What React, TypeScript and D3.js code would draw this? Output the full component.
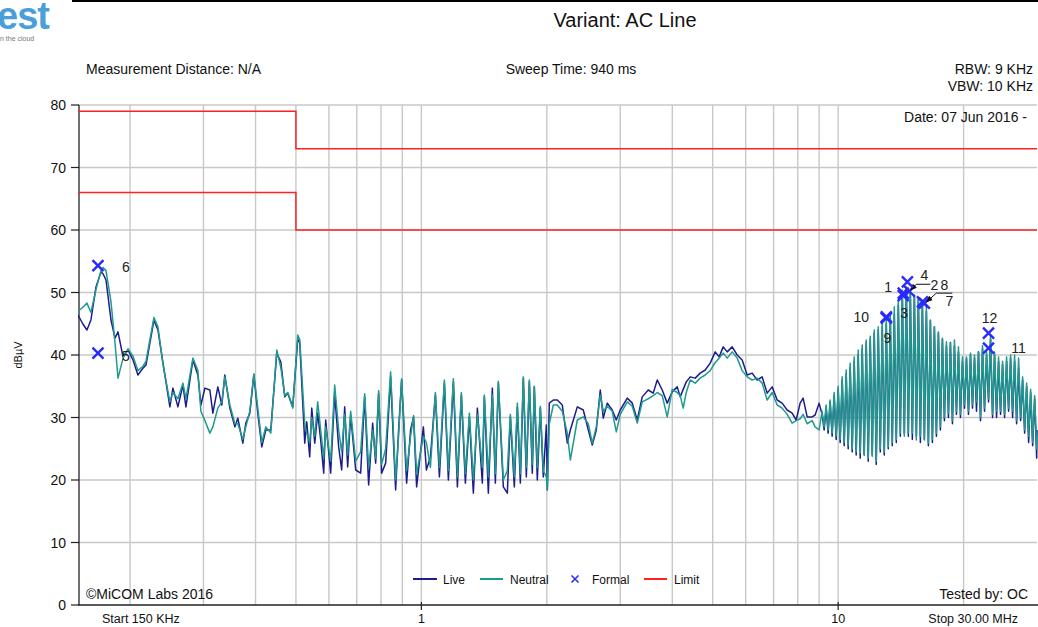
import React from 'react';
import * as d3 from 'd3';

// ---------- DATA ----------
const sweepMHz = [
  0.150,0.154,0.1576,0.1611,0.1657,0.1703,0.1722,0.1751,0.1800,0.1840,0.1871,0.1924,0.1977,0.2033,0.2089,0.2148,0.2184,0.2282,0.2333,0.2399,0.2492,0.2534,0.2605,0.2678,0.2723,0.2830,0.2909,0.2958,0.3024,0.3108,0.3160,0.3248,0.3321,0.3376,0.3471,0.3569,0.3627,0.3729,0.3791,0.3876,0.3963,0.4050,0.4141,0.4233,0.4352,0.4498,0.4599,0.4702,0.4779,0.4913,0.5050,0.5106,
  0.5250,0.5308,0.5396,0.5457,0.5548,0.5639,0.5733,0.5830,0.5894,0.6058,0.6194,0.6332,0.6438,0.6546,0.6655,0.6766,0.6957,0.7149,0.7310,0.7472,0.7640,0.7768,0.7896,0.8029,0.8209,0.8437,0.8674,0.8817,0.8965,0.9217,0.9421,0.9579,0.9740,1.0111,1.0281,1.0511,1.0805,1.1047,1.1355,1.1609,1.1933,1.2201,1.2472,1.2751,1.3037,1.3326,1.3625,1.4005,1.4161,1.4478,1.4800,1.5049,1.5300,1.5727,1.6080,1.6349,1.6712,1.6993,1.7277,1.7563,1.7858,1.8157,1.8457,1.8663,1.8976,1.9294,1.9613,1.9943,2.0055,2.0274,
  2.0727,2.1192,2.1783,2.2395,2.2770,2.3666,2.4461,2.5148,2.5706,2.6284,2.6868,2.7316,2.7929,2.8707,2.9352,3.0005,3.1190,3.2059,3.2961,3.3879,3.5024,3.6000,3.6808,3.7833,3.8897,3.9981,4.1106,4.1789,4.2485,4.3200,4.4161,4.5399,4.6668,4.7979,4.9317,5.0699,5.1834,5.2985,5.4174,5.5683,5.7250,5.8843,6.0499,6.2183,6.3933,6.5713,6.7563,6.9443,7.1397,7.3385,7.5451,7.7551,7.9294,8.1059,8.2410,8.4260,8.6605,8.8060,9.0020,
  9.1524,9.2544,9.3575,9.4617,9.5671,9.6737,9.7814,9.8904,10.001,10.112,10.225,10.339,10.454,10.570,10.688,10.807,10.927,11.049,11.172,11.296,11.422,11.549,11.678,11.808,11.940,12.073,12.207,12.343,12.481,12.620,12.760,12.902,13.046,13.191,13.338,13.487,13.637,13.789,13.943,14.098,14.255,14.414,14.575,14.737,14.901,15.067,15.235,15.405,15.576,15.750,15.925,16.102,16.282,16.463,16.646,16.832,17.019,17.209,17.400,17.594,17.790,17.988,18.189,18.391,18.596,18.803,19.013,19.225,19.439,19.655,19.874,20.096,20.319,20.546,20.775,21.006,21.240,21.477,21.716,21.958,22.202,22.450,22.700,22.953,23.208,23.467,23.728,23.993,24.260,24.530,24.803,25.080,25.359,25.642,25.927,26.216,26.508,26.804,27.102,27.404,27.709,28.018,28.330,28.646,28.965,29.287,29.614,29.944,30.0,
];

const liveDbuV = [
  46.4,45.0,44.0,45.6,50.9,53.3,53.0,52.0,45.6,42.7,43.7,39.7,40.8,39.2,36.8,37.9,38.4,45.6,44.0,38.7,31.7,34.7,31.7,35.2,31.7,39.2,36.8,32.0,34.7,34.4,30.7,34.9,32.0,36.8,31.5,28.5,29.9,25.9,29.1,30.7,36.8,30.7,25.3,28.0,28.0,40.3,38.9,33.3,33.9,31.7,42.5,42.0,
  25.9,29.3,23.7,31.5,25.9,30.7,26.4,21.1,29.6,21.1,33.9,25.3,21.6,31.7,22.1,30.4,21.6,21.1,33.3,19.2,29.1,22.7,33.9,21.1,22.7,36.5,18.4,28.0,36.0,19.5,28.0,30.1,18.9,28.5,21.6,23.7,33.6,20.5,35.5,20.0,35.7,18.9,33.6,19.5,30.1,17.9,31.5,19.5,33.3,17.9,34.7,19.5,35.5,18.9,17.9,30.1,18.9,31.7,19.5,36.3,20.5,35.7,21.1,34.9,20.0,31.5,20.5,28.8,18.4,32.3,
  32.8,32.8,32.0,25.9,28.0,31.7,31.2,28.0,25.6,28.0,34.4,29.9,32.3,31.2,29.6,31.2,33.1,32.3,29.6,33.3,34.4,33.9,36.0,34.4,32.3,34.1,34.9,33.3,34.5,35.7,36.5,36.3,37.1,37.6,38.7,40.5,39.7,41.3,40.5,41.3,40.0,39.2,36.8,37.1,36.0,36.5,33.9,34.9,32.8,32.3,31.2,30.7,29.6,32.3,33.1,30.1,30.1,30.4,32.3,
  30.5,28,31.5,27.5,32.5,27,33.5,26.5,34.5,26,36,25.5,37,25,38,24.5,39,24,40,23.5,41,24,42,23,42.6,24,43.5,22.5,44,24.5,44.5,24,45,25,46,25.5,46.5,26,48,27,49.8,27.5,50.5,27,50.2,26.5,49.5,27,49,26,48.5,26.5,47,25.5,45.5,26,44.5,27,43.5,28,42.5,29.5,41.5,30,42,29,41.5,30.5,40.5,30,39,31.5,39.5,30.5,40,31.5,39.5,31,40.5,29.5,41,31,40,32.5,42.5,30,40,30,39,30.5,38.5,30,39,31,39.5,30,39,29,38,29.5,36,27.5,35,26,34,25.5,33,23.5,28,
];

const neutralDbuV = [
  47.0,47.6,48.3,46.8,50.5,53.5,54.0,53.5,48.5,42.0,36.3,39.5,41.0,39.8,37.5,38.2,39.0,46.0,44.5,38.5,32.5,34.0,33.0,35.5,33.0,39.5,37.5,31.0,29.5,27.5,28.5,31.5,32.5,36.5,32.0,29.0,29.0,26.5,28.5,31.0,37.0,31.5,26.0,28.5,27.5,40.8,38.0,33.5,34.0,31.5,43.2,42.5,
  29.0,27.5,26.0,30.0,27.0,32.5,28.0,23.5,28.5,23.0,35.2,28.0,24.5,30.5,24.0,31.0,23.0,24.5,33.8,22.0,28.0,23.5,34.3,22.5,25.0,37.3,20.0,27.0,36.2,21.5,27.0,30.3,21.0,27.0,26.0,22.0,34.0,22.0,36.0,21.5,36.2,20.5,34.0,21.0,30.7,20.0,30.5,22.0,33.6,20.5,33.6,21.0,35.8,20.0,21.5,30.5,20.5,32.3,21.0,36.5,22.0,36.0,22.5,35.0,22.0,31.8,21.5,20.5,18.5,29.0,
  32.0,32.0,31.0,27.5,23.2,29.6,30.1,29.0,25.9,28.5,33.6,31.0,31.8,31.0,27.7,30.5,32.5,31.8,29.1,32.5,33.0,33.5,34.0,33.5,30.1,34.5,34.0,33.5,31.5,34.0,36.0,35.5,36.3,36.8,37.5,38.8,39.5,40.3,39.5,40.5,39.5,37.5,36.5,36.0,36.3,35.5,32.8,34.0,32.0,31.5,30.5,29.1,29.5,29.8,30.5,29.0,29.5,28.5,28.0,
  31,28.5,32,28,32.8,27.5,34,27,35,26.5,36.5,26,37.6,25.5,38.7,25,39.7,24.5,40.8,24.3,41.6,24,42.4,23.5,43,23.8,44,23,44.5,25,45.3,24.5,45.6,25.3,46.7,26,47.7,26.5,48.8,27.5,50.4,27,50.9,27.5,50,27.5,49.6,26.4,48.8,27,48.3,26.4,47.7,25.9,45.6,26.5,44.5,27.5,43.7,28.5,42.7,30,42.1,30.7,41.9,29.5,42.4,31,41.3,30.5,39.7,32,39.7,31,40.3,32,40,32.5,40.5,30,41.5,31.5,40.5,33,43.2,30.5,40.5,31,39.7,31,39,30.5,39.7,31.5,40,31,40,29.5,39.5,30,36.5,28,35.5,27,34.5,26,33.5,25,27,
];

const limitFreqMHz = [0.15, 0.5, 0.5, 30];
const limitQuasiPeak = [79, 79, 73, 73];
const limitAverage = [66, 66, 60, 60];

const markerIds = ['1', '2', '3', '4', '5', '6', '7', '8', '9', '10', '11', '12'];
const markerFreqMHz = [14.33, 14.82, 14.33, 14.66, 0.1675, 0.1675, 15.93, 16.1, 13.05, 13.05, 22.95, 22.95];
const markerDbuV = [49.9, 50.2, 49.5, 51.7, 40.3, 54.3, 48.5, 48.3, 45.9, 46.1, 41.1, 43.5];

const yTicks = [0, 10, 20, 30, 40, 50, 60, 70, 80];
const xTickLabels = [1, 10];

// ---------- LAYOUT / STYLE ----------
const W = 1038, H = 627;
const PL = 78, PR = 1037, PT = 105, PB = 605;
const FONT = '"Liberation Sans", Arial, sans-serif';
const C_LIVE = '#1c1c8e';
const C_NEUT = '#1f9a8c';
const C_MARK = '#2a2aff';
const C_LIM = '#ff2222';
const C_GRID = '#c8c8c8';

// label offsets (dx, dy) from marker in pixels; leader = optional polyline offsets
const labelLayout: Record<string, { dx: number; dy: number; leader?: [number, number][] }> = {
  '1': { dx: -15, dy: -1 },
  '2': { dx: 25, dy: -1, leader: [[21, -7], [7, -7], [1, -1]] },
  '3': { dx: 1, dy: 22 },
  '4': { dx: 17, dy: -2 },
  '5': { dx: 28, dy: 8 },
  '6': { dx: 28, dy: 6 },
  '7': { dx: 27, dy: 4 },
  '8': { dx: 20, dy: -13, leader: [[28, -10], [12, -10], [2, -1]] },
  '9': { dx: 1, dy: 25 },
  '10': { dx: -25, dy: 5 },
  '11': { dx: 30, dy: 5 },
  '12': { dx: 1, dy: -10 },
};

export default function App() {
  const x = d3.scaleLog().domain([0.15, 30]).range([PL, PR]);
  const y = d3.scaleLinear().domain([0, 80]).range([PB, PT]);

  const gridX = x.ticks().filter((t) => t > 0.15 && t < 30);
  const gridY = yTicks.filter((t) => t > 0);

  const line = d3.line<[number, number]>().x((d) => x(d[0])).y((d) => y(d[1]));
  const livePts = sweepMHz.map((f, i) => [f, liveDbuV[i]] as [number, number]);
  const neutPts = sweepMHz.map((f, i) => [f, neutralDbuV[i]] as [number, number]);
  const qpPts = limitFreqMHz.map((f, i) => [f, limitQuasiPeak[i]] as [number, number]);
  const avPts = limitFreqMHz.map((f, i) => [f, limitAverage[i]] as [number, number]);

  const txt = { fontFamily: FONT, fill: '#111' } as const;

  return (
    <svg width={W} height={H} style={{ position: 'absolute', left: 0, top: 0, background: '#fff' }}>
      <defs>
        <clipPath id="plotClip">
          <rect x={PL} y={PT - 2} width={PR - PL + 2} height={PB - PT + 2} />
        </clipPath>
        <marker id="arrowHead" viewBox="0 0 10 10" refX="9" refY="5" markerWidth="7" markerHeight="7" orient="auto-start-reverse">
          <path d="M0,1 L10,5 L0,9 z" fill="#111" />
        </marker>
      </defs>
      <rect x={0} y={0} width={W} height={H} fill="#fff" />

      {/* logo fragment */}
      <text x={-3} y={29} fontFamily={FONT} fontWeight="bold" fontSize={38} fill="#4a9fdb" letterSpacing={-1}>est</text>
      <rect x={41} y={25} width={3} height={3} fill="#4a9fdb" />
      <text x={0} y={41} fontFamily={FONT} fontSize={7} fill="#777">n the cloud</text>
      <line x1={72} x2={W} y1={1} y2={1} stroke="#000" strokeWidth={2} />
      <text x={625} y={27} textAnchor="middle" fontSize={20} {...txt}>Variant: AC Line</text>

      {/* header texts */}
      <text x={86} y={74} fontSize={14} {...txt}>Measurement Distance: N/A</text>
      <text x={571} y={74} textAnchor="middle" fontSize={14} {...txt}>Sweep Time: 940 ms</text>
      <text x={1033} y={74} textAnchor="end" fontSize={14} {...txt}>RBW: 9 KHz</text>
      <text x={1033} y={91} textAnchor="end" fontSize={14} {...txt}>VBW: 10 KHz</text>

      {/* grid */}
      {gridX.map((t) => (
        <line key={'gx' + t} x1={x(t)} x2={x(t)} y1={PT} y2={PB} stroke={C_GRID} strokeWidth={1.4} />
      ))}
      {gridY.map((t) => (
        <line key={'gy' + t} x1={PL} x2={PR} y1={y(t)} y2={y(t)} stroke={C_GRID} strokeWidth={1.4} />
      ))}

      {/* axes */}
      <line x1={PL + 1} x2={PL + 1} y1={PT} y2={PB} stroke="#222" strokeWidth={1.3} />
      <line x1={PL} x2={PR + 1} y1={PB} y2={PB} stroke="#222" strokeWidth={1.3} />
      {yTicks.map((t) => (
        <g key={'yt' + t}>
          <line x1={PL - 7} x2={PL + 1} y1={y(t)} y2={y(t)} stroke="#222" strokeWidth={1.2} />
          <text x={66} y={y(t) + 5} textAnchor="end" fontSize={14} {...txt}>{t}</text>
        </g>
      ))}
      {xTickLabels.map((t) => (
        <g key={'xt' + t}>
          <line x1={x(t)} x2={x(t)} y1={PB - 3} y2={PB + 5} stroke="#222" strokeWidth={1.2} />
          <text x={x(t)} y={623} textAnchor="middle" fontSize={12.5} {...txt}>{t}</text>
        </g>
      ))}
      <text x={102} y={623} fontSize={12.5} {...txt}>Start 150 KHz</text>
      <text x={1018} y={623} textAnchor="end" fontSize={12.5} {...txt}>Stop 30.00 MHz</text>
      <text transform={`translate(22,355) rotate(-90)`} textAnchor="middle" fontSize={11} {...txt}>dBµV</text>

      {/* traces */}
      <g clipPath="url(#plotClip)">
        <path d={line(livePts) || ''} fill="none" stroke={C_LIVE} strokeWidth={1.5} strokeLinejoin="round" />
        <path d={line(neutPts) || ''} fill="none" stroke={C_NEUT} strokeWidth={1.5} strokeLinejoin="round" />
        <path d={line(qpPts) || ''} fill="none" stroke={C_LIM} strokeWidth={1.5} />
        <path d={line(avPts) || ''} fill="none" stroke={C_LIM} strokeWidth={1.5} />
      </g>

      {/* markers */}
      {markerIds.map((id, i) => {
        const mx = x(markerFreqMHz[i]);
        const my = y(markerDbuV[i]);
        const lay = labelLayout[id];
        return (
          <g key={'m' + id}>
            <path d={`M${mx - 5.5},${my - 5.5}L${mx + 5.5},${my + 5.5}M${mx - 5.5},${my + 5.5}L${mx + 5.5},${my - 5.5}`} stroke={C_MARK} strokeWidth={2.4} />
            {lay.leader && (
              <polyline points={lay.leader.map((p) => `${mx + p[0]},${my + p[1]}`).join(' ')} fill="none" stroke="#111" strokeWidth={1} markerEnd="url(#arrowHead)" />
            )}
            <text x={mx + lay.dx} y={my + lay.dy} textAnchor="middle" fontSize={14} {...txt} fill="#222">{id}</text>
          </g>
        );
      })}

      {/* in-plot texts */}
      <text x={1027} y={122} textAnchor="end" fontSize={14} {...txt}>Date: 07 Jun 2016 -</text>
      <text x={86} y={599} fontSize={14} {...txt}>©MiCOM Labs 2016</text>
      <text x={1028} y={599} textAnchor="end" fontSize={14} {...txt}>Tested by: OC</text>

      {/* legend */}
      <line x1={413} x2={437} y1={579} y2={579} stroke={C_LIVE} strokeWidth={2} />
      <text x={443} y={583.5} fontSize={12} {...txt}>Live</text>
      <line x1={480} x2={503} y1={579} y2={579} stroke={C_NEUT} strokeWidth={2} />
      <text x={510} y={583.5} fontSize={12} {...txt}>Neutral</text>
      <path d="M571.5,575.5L578.5,582.5M571.5,582.5L578.5,575.5" stroke={C_MARK} strokeWidth={1.6} />
      <text x={592} y={583.5} fontSize={12} {...txt}>Formal</text>
      <line x1={644} x2={667} y1={579} y2={579} stroke={C_LIM} strokeWidth={2} />
      <text x={674} y={583.5} fontSize={12} {...txt}>Limit</text>
    </svg>
  );
}
